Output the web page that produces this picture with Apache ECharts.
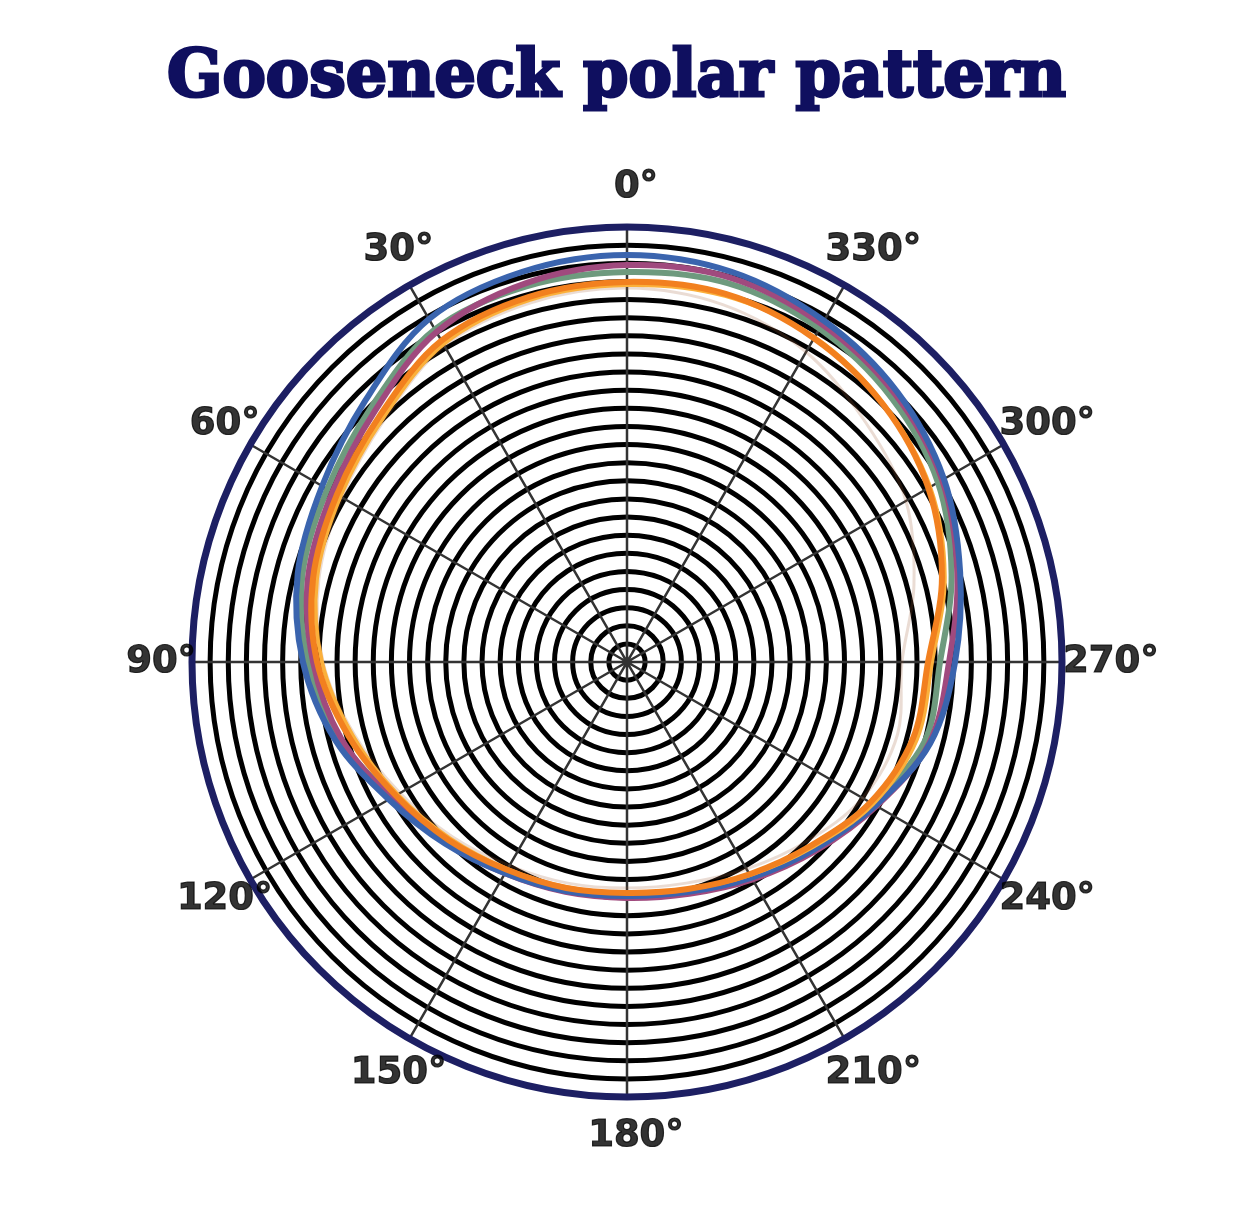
<!DOCTYPE html>
<html>
<head>
<meta charset="utf-8">
<script src="https://cdn.jsdelivr.net/npm/echarts@6/dist/echarts.min.js"></script>
<style>
html,body{margin:0;padding:0;background:#ffffff;}
#chart{width:1257px;height:1211px;}
</style>
</head>
<body>
<div id="chart"></div>
<script>
// ---- data (radius in grid-ring units, angle in degrees, 0 at top, counter-clockwise) ----
const angles = [0,15,30,45,60,75,90,105,120,135,150,165,180,195,210,225,240,255,270,285,300,315,330,345];
const seriesBlue   = [22.46,22.29,21.85,20.41,19.42,18.81,17.88,16.66,15.17,14.18,13.46,13.08,12.91,13.13,13.74,14.62,15.83,17.32,18.10,19.03,20.19,21.08,21.74,22.29];
const seriesPurple = [21.90,21.63,21.02,19.64,18.76,18.21,17.32,16.33,15.01,14.12,13.46,13.13,13.02,13.24,13.85,14.73,15.89,17.27,17.77,18.87,20.08,20.91,21.52,21.96];
const seriesGreen  = [21.52,21.46,21.19,19.92,19.09,18.54,17.60,16.39,14.95,14.01,13.35,12.97,12.80,13.02,13.57,14.40,15.56,16.99,17.27,18.54,19.81,20.63,21.24,21.63];
const seriesOrange = [20.97,20.86,20.47,19.26,18.48,17.93,17.10,15.89,14.73,13.90,13.24,12.91,12.74,12.97,13.52,14.34,15.50,16.33,16.61,17.99,19.20,20.03,20.63,21.02];
const seriesAmber  = [20.80,20.69,20.25,19.03,18.26,17.71,16.83,15.67,14.62,13.79,13.19,12.86,12.74,12.97,13.57,14.46,15.67,16.55,16.83,18.15,19.31,20.08,20.69,20.91];
const seriesBrown  = [20.63,20.52,20.14,18.92,18.15,17.60,16.77,15.56,14.46,13.63,12.97,12.63,12.47,12.63,13.19,14.01,15.01,15.45,15.17,16.39,17.77,18.65,19.75,20.41];
const tickAngles = [0,30,60,90,120,150,180,210,240,270,300,330];
const tickLabels = ['0','30','60','90','120','150','180','210','240','270','300','330'];
const titleText = 'Gooseneck polar pattern';

const RING_MAX = 24;
const LABEL_RING = 26.2;

function loopSeries(name, vals, color, width, z, opacity){
  return {
    name, type:'custom', coordinateSystem:'polar', silent:true, clip:false, z:z,
    data: angles.map((a,i)=>[vals[i], a]),
    renderItem: function(params, api){
      if (params.dataIndex !== 0) return null;
      const pts = angles.map((a,i)=>api.coord([vals[i], a]));
      return {
        type:'polygon',
        shape:{points: pts, smooth: 0.34},
        style:{fill:'none', stroke: color, lineWidth: width, opacity: opacity==null?1:opacity}
      };
    }
  };
}

const chart = echarts.init(document.getElementById('chart'), null, {renderer:'canvas'});
chart.setOption({
  animation:false,
  backgroundColor:'#ffffff',
  title:{
    text:titleText, left:162, top:42,
    textStyle:{fontFamily:'DejaVu Serif', fontWeight:'bold', fontSize:65, color:'#0f0f5f',
      textBorderColor:'#0f0f5f', textBorderWidth:3}
  },
  polar:{center:[627,662], radius:435},
  angleAxis:{
    type:'value', min:0, max:360, interval:30, startAngle:90, clockwise:false,
    axisLine:{show:true, lineStyle:{color:'#1d1f63', width:7}},
    axisTick:{show:false},
    axisLabel:{show:false},
    splitLine:{show:true, lineStyle:{color:'#333333', width:2.5}}
  },
  radiusAxis:{
    type:'value', min:0, max:RING_MAX, interval:1,
    axisLine:{show:false}, axisTick:{show:false}, axisLabel:{show:false},
    splitLine:{show:true, lineStyle:{color:'#000000', width:5}}
  },
  series:[
    loopSeries('brown', seriesBrown, '#a0603a', 3, 2, 0.22),
    loopSeries('green', seriesGreen, '#6e9a7e', 6, 3),
    loopSeries('purple', seriesPurple, '#a04a7e', 6, 4),
    loopSeries('blue', seriesBlue, '#3a64ae', 6, 5),
    loopSeries('amber', seriesAmber, '#fbb03b', 4, 6),
    loopSeries('orange', seriesOrange, '#f2801f', 6, 7),
    {
      type:'scatter', coordinateSystem:'polar', clip:false, silent:true,
      symbolSize:0, z:10,
      data: tickAngles.map((a,i)=>({value:[LABEL_RING, a], name: tickLabels[i]})),
      label:{
        show:true, position:'inside', offset:[9,0],
        formatter: p => '{t|' + p.name + '°}',
        rich:{t:{fontFamily:'DejaVu Sans', fontWeight:'bold', fontSize:37, color:'#000000',
          textBorderColor:'#000000', textBorderWidth:1.2}}
      }
    }
  ]
});
</script>
</body>
</html>
